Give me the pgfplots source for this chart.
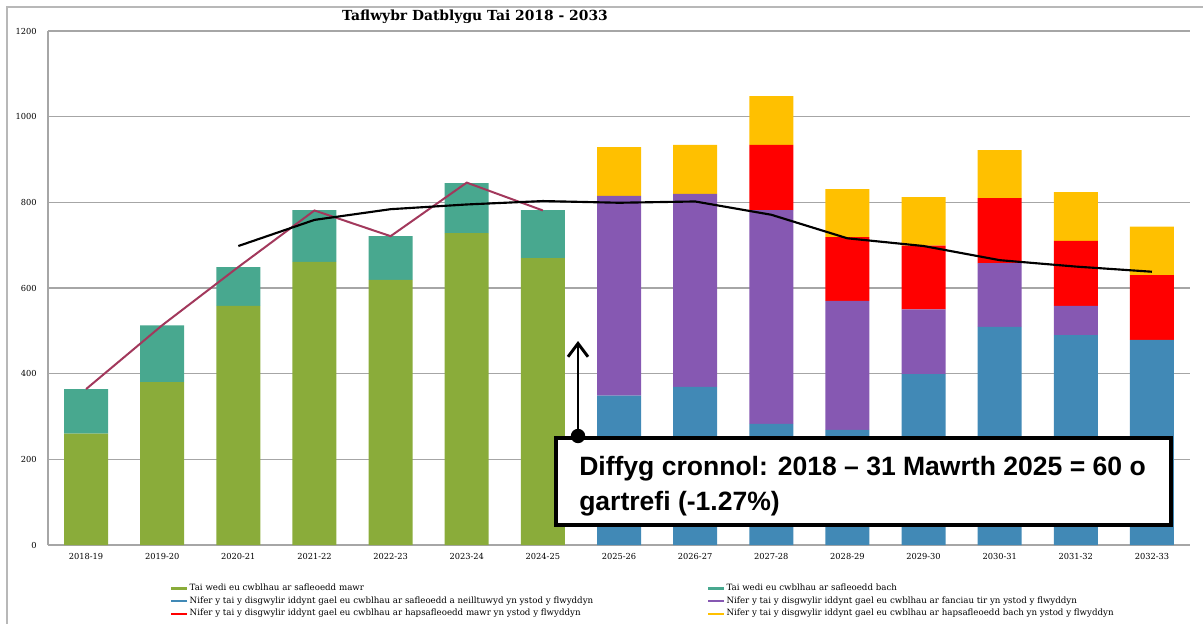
\documentclass[border=0pt]{standalone}
\usepackage{pgfplots}
\pgfplotsset{compat=1.18}
\usepackage{fontspec}
\setmainfont{DejaVu Serif}
\newfontfamily\annotfont{Liberation Sans}
\usetikzlibrary{arrows.meta}
\definecolor{cgreen}{HTML}{8AAC3A}
\definecolor{cteal}{HTML}{48A88F}
\definecolor{cblue}{HTML}{4189B6}
\definecolor{cpurple}{HTML}{8658B2}
\definecolor{cred}{HTML}{FF0000}
\definecolor{cyellow}{HTML}{FFC000}
\definecolor{cmaroon}{HTML}{A2385C}
\definecolor{cgrid}{HTML}{A6A6A6}
\pgfplotsset{
  base/.style={scale only axis, width=856.5pt, height=385.5pt,
    xmin=-0.5, xmax=14.5, ymin=0, ymax=1200,
    at={(36pt,-23.25pt)}, anchor=north west},
  sw/.style={fill=#1, draw=none,
    legend image code/.code={\draw[#1, line width=1.6pt] (0pt,-0.4pt) -- (12pt,-0.4pt);}},
}
\begin{document}
\begin{tikzpicture}
\begin{scope}[x=0.75pt,y=-0.75pt]
\path[use as bounding box] (0,0) rectangle (1203,624);
\draw[cgrid!80, line width=1.1pt] (7,624) -- (7,7) -- (1203,7);
\end{scope}
\begin{axis}[base, ybar stacked, bar width=33pt,
  axis x line*=bottom, axis y line*=left,
  axis line style={cgrid, line width=1.2pt},
  ymajorgrids, grid style={cgrid, line width=0.9pt},
  ytick={0,200,...,1200}, xtick={0,...,14},
  xticklabels={2018-19,2019-20,2020-21,2021-22,2022-23,2023-24,2024-25,2025-26,2026-27,2027-28,2028-29,2029-30,2030-31,2031-32,2032-33},
  major tick length=0pt,
  tick label style={font=\fontsize{6.2}{7}\selectfont},
  yticklabel style={xshift=-5pt},
  xticklabel style={yshift=-3pt},
  /pgf/number format/1000 sep={}, /pgf/number format/assume math mode=true,
  legend columns=2, legend cell align=left,
  legend style={draw=none, fill=none, at={(0.1033,-0.0675)}, anchor=north west,
    font=\fontsize{6.5}{7}\selectfont, column sep=0pt, row sep=1.5pt,
    nodes={inner xsep=1pt, inner ysep=0.5pt, text height=5.5pt, text depth=1.5pt}},
]
\addplot[sw=cgreen] coordinates {(0,260) (1,380) (2,558) (3,661) (4,619) (5,728) (6,670) (7,0) (8,0) (9,0) (10,0) (11,0) (12,0) (13,0) (14,0)};
\addlegendentry{\makebox[387pt][l]{Tai wedi eu cwblhau ar safleoedd mawr}}
\addplot[sw=cteal] coordinates {(0,104) (1,133) (2,91) (3,121) (4,102) (5,117) (6,112) (7,0) (8,0) (9,0) (10,0) (11,0) (12,0) (13,0) (14,0)};
\addlegendentry{Tai wedi eu cwblhau ar safleoedd bach}
\addplot[sw=cblue] coordinates {(0,0) (1,0) (2,0) (3,0) (4,0) (5,0) (6,0) (7,349) (8,369) (9,283) (10,269) (11,399) (12,509) (13,490) (14,479)};
\addlegendentry{\makebox[387pt][l]{Nifer y tai y disgwylir iddynt gael eu cwblhau ar safleoedd a neilltuwyd yn ystod y flwyddyn}}
\addplot[sw=cpurple] coordinates {(0,0) (1,0) (2,0) (3,0) (4,0) (5,0) (6,0) (7,466) (8,451) (9,499) (10,301) (11,151) (12,149) (13,68) (14,0)};
\addlegendentry{Nifer y tai y disgwylir iddynt gael eu cwblhau ar fanciau tir yn ystod y flwyddyn}
\addplot[sw=cred] coordinates {(0,0) (1,0) (2,0) (3,0) (4,0) (5,0) (6,0) (7,0) (8,0) (9,152) (10,149) (11,149) (12,152) (13,152) (14,151)};
\addlegendentry{\makebox[387pt][l]{Nifer y tai y disgwylir iddynt gael eu cwblhau ar hapsafleoedd mawr yn ystod y flwyddyn}}
\addplot[sw=cyellow] coordinates {(0,0) (1,0) (2,0) (3,0) (4,0) (5,0) (6,0) (7,114) (8,114) (9,114) (10,112) (11,113) (12,112) (13,114) (14,113)};
\addlegendentry{Nifer y tai y disgwylir iddynt gael eu cwblhau ar hapsafleoedd bach yn ystod y flwyddyn}
\end{axis}
\begin{axis}[base, hide axis]
\addplot[cmaroon, line width=1.5pt] coordinates {(0,364) (1,513) (2,649) (3,781) (4,721) (5,846) (6,781)};
\addplot[black, line width=1.6pt] coordinates {(2,698) (3,759) (4,784) (5,795) (6,803) (7,799) (8,802) (9,771) (10,716) (11,698) (12,665) (13,650) (14,638)};
\end{axis}
\begin{scope}[x=0.75pt,y=-0.75pt]
\node[font=\fontsize{10.4}{12}\selectfont\bfseries] at (475,17) {Taflwybr Datblygu Tai 2018 - 2033};
\draw[line width=2.3pt, fill=white] (556,438) rectangle (1171,525);
\node[anchor=base west, inner sep=0pt, font=\annotfont\bfseries\fontsize{19.9}{24}\selectfont] at (579,475) {Diffyg cronnol: 2018 – 31 Mawrth 2025 = 60 o};
\node[anchor=base west, inner sep=0pt, font=\annotfont\bfseries\fontsize{19.9}{24}\selectfont] at (579,510.7) {gartrefi (-1.27\%)};
\draw[line width=2.2pt, -{Straight Barb[length=10pt,width=15pt]}] (578,436) -- (578,341);
\fill (578,436) circle (5.4pt);
\end{scope}
\end{tikzpicture}
\end{document}
